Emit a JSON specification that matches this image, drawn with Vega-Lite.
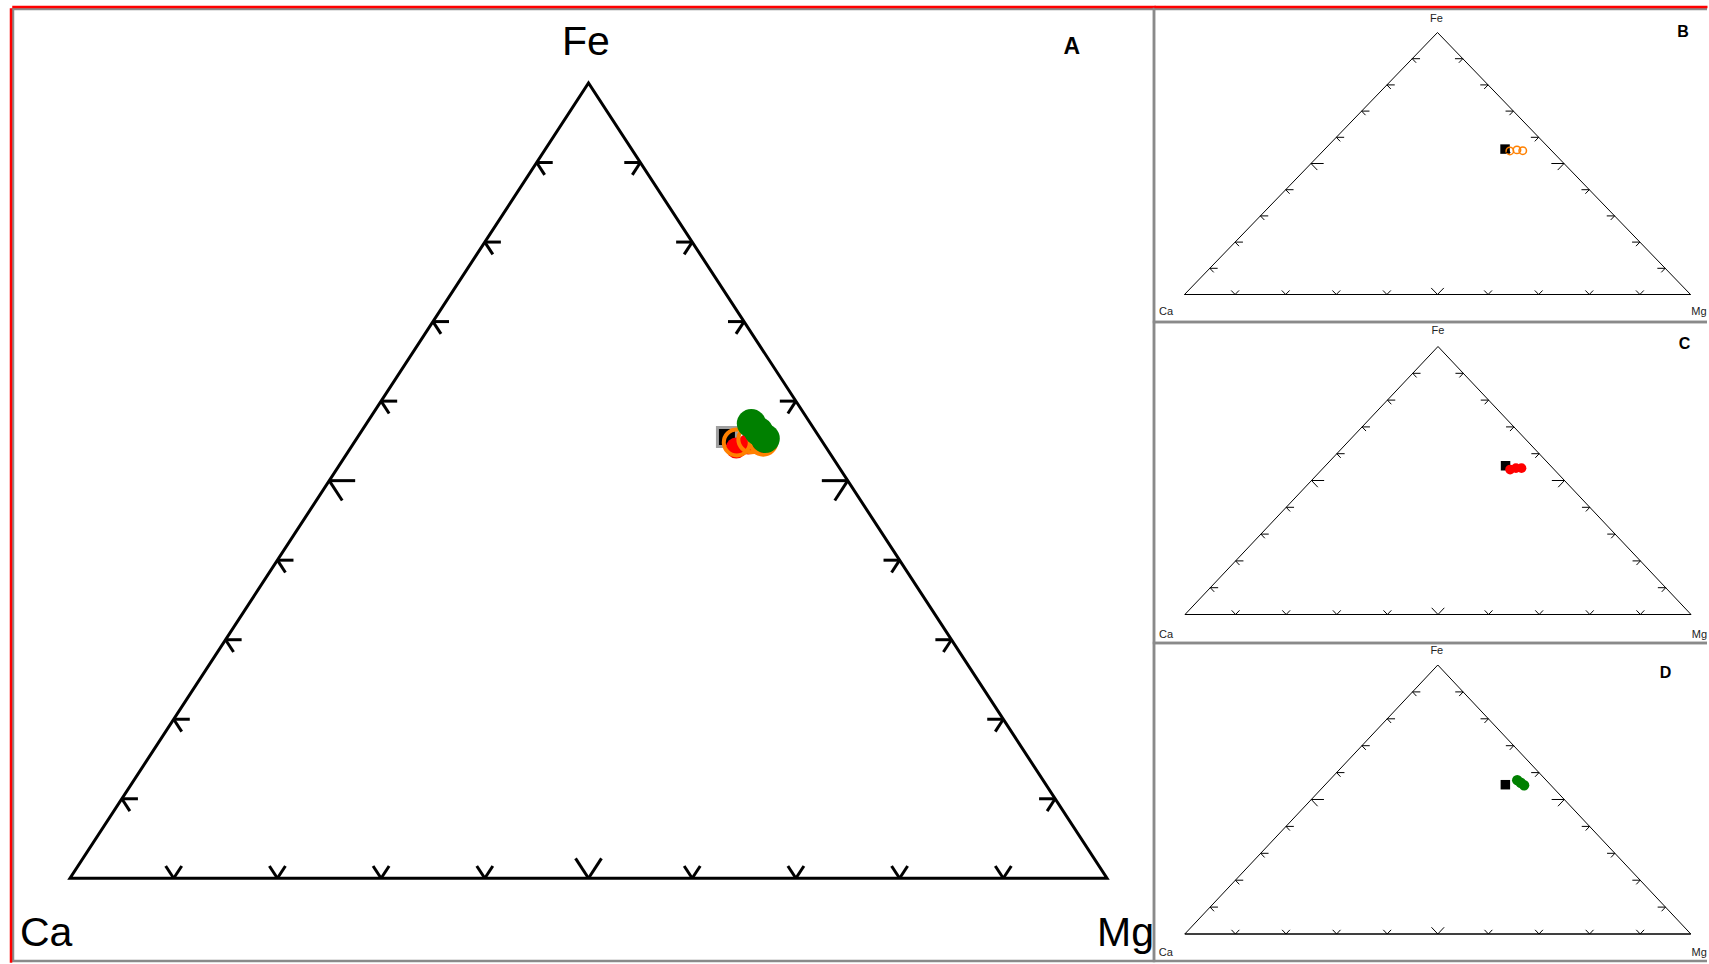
{
  "$schema": "https://vega.github.io/schema/vega-lite/v6.json",
  "background": "#ffffff",
  "padding": {"left": 9, "top": 5, "right": 0, "bottom": 0},
  "bounds": "flush",
  "spacing": 0,
  "datasets": {
    "outline": [
      {"vertex": "Ca", "step": 1, "x": 0, "y": 0},
      {"vertex": "Mg", "step": 2, "x": 1, "y": 0},
      {"vertex": "Fe", "step": 3, "x": 0.5, "y": 1},
      {"vertex": "Ca", "step": 4, "x": 0, "y": 0},
      {"vertex": "Mg", "step": 5, "x": 1, "y": 0}
    ],
    "vertices": [
      {"label": "Ca", "x": 0, "y": 0},
      {"label": "Mg", "x": 1, "y": 0},
      {"label": "Fe", "x": 0.5, "y": 1}
    ],
    "panels": [
      {"panel": "A", "x": 0.966, "y": 1.036},
      {"panel": "B", "x": 0.985, "y": 0.983},
      {"panel": "C", "x": 0.987, "y": 0.991},
      {"panel": "D", "x": 0.95, "y": 0.952}
    ],
    "ticks": [
      {"edge": "base", "pct": 10, "x": 0.1, "y": 0, "x2": 0.09225, "y2": 0.0155},
      {"edge": "base", "pct": 10, "x": 0.1, "y": 0, "x2": 0.10775, "y2": 0.0155},
      {"edge": "base", "pct": 20, "x": 0.2, "y": 0, "x2": 0.19225, "y2": 0.0155},
      {"edge": "base", "pct": 20, "x": 0.2, "y": 0, "x2": 0.20775, "y2": 0.0155},
      {"edge": "base", "pct": 30, "x": 0.3, "y": 0, "x2": 0.29225, "y2": 0.0155},
      {"edge": "base", "pct": 30, "x": 0.3, "y": 0, "x2": 0.30775, "y2": 0.0155},
      {"edge": "base", "pct": 40, "x": 0.4, "y": 0, "x2": 0.39225, "y2": 0.0155},
      {"edge": "base", "pct": 40, "x": 0.4, "y": 0, "x2": 0.40775, "y2": 0.0155},
      {"edge": "base", "pct": 50, "x": 0.5, "y": 0, "x2": 0.4875, "y2": 0.025},
      {"edge": "base", "pct": 50, "x": 0.5, "y": 0, "x2": 0.5125, "y2": 0.025},
      {"edge": "base", "pct": 60, "x": 0.6, "y": 0, "x2": 0.59225, "y2": 0.0155},
      {"edge": "base", "pct": 60, "x": 0.6, "y": 0, "x2": 0.60775, "y2": 0.0155},
      {"edge": "base", "pct": 70, "x": 0.7, "y": 0, "x2": 0.69225, "y2": 0.0155},
      {"edge": "base", "pct": 70, "x": 0.7, "y": 0, "x2": 0.70775, "y2": 0.0155},
      {"edge": "base", "pct": 80, "x": 0.8, "y": 0, "x2": 0.79225, "y2": 0.0155},
      {"edge": "base", "pct": 80, "x": 0.8, "y": 0, "x2": 0.80775, "y2": 0.0155},
      {"edge": "base", "pct": 90, "x": 0.9, "y": 0, "x2": 0.89225, "y2": 0.0155},
      {"edge": "base", "pct": 90, "x": 0.9, "y": 0, "x2": 0.90775, "y2": 0.0155},
      {"edge": "left", "pct": 10, "x": 0.05, "y": 0.1, "x2": 0.0655, "y2": 0.1},
      {"edge": "left", "pct": 10, "x": 0.05, "y": 0.1, "x2": 0.05775, "y2": 0.0845},
      {"edge": "left", "pct": 20, "x": 0.1, "y": 0.2, "x2": 0.1155, "y2": 0.2},
      {"edge": "left", "pct": 20, "x": 0.1, "y": 0.2, "x2": 0.10775, "y2": 0.1845},
      {"edge": "left", "pct": 30, "x": 0.15, "y": 0.3, "x2": 0.1655, "y2": 0.3},
      {"edge": "left", "pct": 30, "x": 0.15, "y": 0.3, "x2": 0.15775, "y2": 0.2845},
      {"edge": "left", "pct": 40, "x": 0.2, "y": 0.4, "x2": 0.2155, "y2": 0.4},
      {"edge": "left", "pct": 40, "x": 0.2, "y": 0.4, "x2": 0.20775, "y2": 0.3845},
      {"edge": "left", "pct": 50, "x": 0.25, "y": 0.5, "x2": 0.275, "y2": 0.5},
      {"edge": "left", "pct": 50, "x": 0.25, "y": 0.5, "x2": 0.2625, "y2": 0.475},
      {"edge": "left", "pct": 60, "x": 0.3, "y": 0.6, "x2": 0.3155, "y2": 0.6},
      {"edge": "left", "pct": 60, "x": 0.3, "y": 0.6, "x2": 0.30775, "y2": 0.5845},
      {"edge": "left", "pct": 70, "x": 0.35, "y": 0.7, "x2": 0.3655, "y2": 0.7},
      {"edge": "left", "pct": 70, "x": 0.35, "y": 0.7, "x2": 0.35775, "y2": 0.6845},
      {"edge": "left", "pct": 80, "x": 0.4, "y": 0.8, "x2": 0.4155, "y2": 0.8},
      {"edge": "left", "pct": 80, "x": 0.4, "y": 0.8, "x2": 0.40775, "y2": 0.7845},
      {"edge": "left", "pct": 90, "x": 0.45, "y": 0.9, "x2": 0.4655, "y2": 0.9},
      {"edge": "left", "pct": 90, "x": 0.45, "y": 0.9, "x2": 0.45775, "y2": 0.8845},
      {"edge": "right", "pct": 10, "x": 0.95, "y": 0.1, "x2": 0.9345, "y2": 0.1},
      {"edge": "right", "pct": 10, "x": 0.95, "y": 0.1, "x2": 0.94225, "y2": 0.0845},
      {"edge": "right", "pct": 20, "x": 0.9, "y": 0.2, "x2": 0.8845, "y2": 0.2},
      {"edge": "right", "pct": 20, "x": 0.9, "y": 0.2, "x2": 0.89225, "y2": 0.1845},
      {"edge": "right", "pct": 30, "x": 0.85, "y": 0.3, "x2": 0.8345, "y2": 0.3},
      {"edge": "right", "pct": 30, "x": 0.85, "y": 0.3, "x2": 0.84225, "y2": 0.2845},
      {"edge": "right", "pct": 40, "x": 0.8, "y": 0.4, "x2": 0.7845, "y2": 0.4},
      {"edge": "right", "pct": 40, "x": 0.8, "y": 0.4, "x2": 0.79225, "y2": 0.3845},
      {"edge": "right", "pct": 50, "x": 0.75, "y": 0.5, "x2": 0.725, "y2": 0.5},
      {"edge": "right", "pct": 50, "x": 0.75, "y": 0.5, "x2": 0.7375, "y2": 0.475},
      {"edge": "right", "pct": 60, "x": 0.7, "y": 0.6, "x2": 0.6845, "y2": 0.6},
      {"edge": "right", "pct": 60, "x": 0.7, "y": 0.6, "x2": 0.69225, "y2": 0.5845},
      {"edge": "right", "pct": 70, "x": 0.65, "y": 0.7, "x2": 0.6345, "y2": 0.7},
      {"edge": "right", "pct": 70, "x": 0.65, "y": 0.7, "x2": 0.64225, "y2": 0.6845},
      {"edge": "right", "pct": 80, "x": 0.6, "y": 0.8, "x2": 0.5845, "y2": 0.8},
      {"edge": "right", "pct": 80, "x": 0.6, "y": 0.8, "x2": 0.59225, "y2": 0.7845},
      {"edge": "right", "pct": 90, "x": 0.55, "y": 0.9, "x2": 0.5345, "y2": 0.9},
      {"edge": "right", "pct": 90, "x": 0.55, "y": 0.9, "x2": 0.54225, "y2": 0.8845}
    ],
    "samples": [
      {"series": "ref", "ca": 8.9, "mg": 35.6, "fe": 55.5, "x": 0.6335, "y": 0.555},
      {"series": "ref2", "ca": 8.6, "mg": 36.6, "fe": 54.8, "x": 0.64, "y": 0.548},
      {"series": "B", "ca": 8.3, "mg": 36.9, "fe": 54.8, "x": 0.643, "y": 0.548},
      {"series": "B", "ca": 6.7, "mg": 38.1, "fe": 55.2, "x": 0.657, "y": 0.552},
      {"series": "B", "ca": 5.7, "mg": 39.4, "fe": 54.9, "x": 0.6685, "y": 0.549},
      {"series": "C", "ca": 8.7, "mg": 37.2, "fe": 54.1, "x": 0.6425, "y": 0.541},
      {"series": "C", "ca": 7.3, "mg": 38.1, "fe": 54.6, "x": 0.654, "y": 0.546},
      {"series": "C", "ca": 6.2, "mg": 39.2, "fe": 54.6, "x": 0.665, "y": 0.546},
      {"series": "D", "ca": 5.7, "mg": 37.1, "fe": 57.2, "x": 0.657, "y": 0.572},
      {"series": "D", "ca": 5.3, "mg": 39.4, "fe": 55.3, "x": 0.6705, "y": 0.553},
      {"series": "D", "ca": 5.5, "mg": 38.3, "fe": 56.2, "x": 0.664, "y": 0.562}
    ]
  },
  "hconcat": [
    {
      "width": 1141,
      "height": 952,
      "view": {"stroke": "#8a8a8a", "strokeWidth": 2.5},
      "encoding": {
        "x": {"field": "x", "type": "quantitative", "scale": {"domain": [-0.054966, 1.045323], "nice": false, "zero": false},
              "axis": {"orient": "top", "offset": 2.5, "domainColor": "#ff0000", "domainWidth": 2.5, "domainCap": "square", "ticks": false, "labels": false, "grid": false, "title": null}},
        "y": {"field": "y", "type": "quantitative", "scale": {"domain": [-0.103986, 1.093047], "nice": false, "zero": false},
              "axis": {"orient": "left", "offset": 2.5, "domainColor": "#ff0000", "domainWidth": 2.5, "domainCap": "square", "ticks": false, "labels": false, "grid": false, "title": null}}
      },
      "layer": [
        {"data": {"name": "outline"}, "mark": {"type": "line", "color": "#000000", "strokeWidth": 3, "strokeJoin": "miter"},
         "encoding": {"order": {"field": "step", "type": "quantitative"}}},
        {"data": {"name": "ticks"}, "mark": {"type": "rule", "color": "#000000", "strokeWidth": 3},
         "encoding": {"x2": {"field": "x2"}, "y2": {"field": "y2"}}},
        {"data": {"name": "samples"}, "transform": [{"filter": "datum.series === 'ref'"}],
         "mark": {"type": "point", "shape": "square", "filled": true, "fill": "#000000", "stroke": "#a0a0a0", "strokeWidth": 3, "size": 361, "opacity": 1}},
        {"data": {"name": "samples"}, "transform": [{"filter": "datum.series === 'ref2'"}],
         "mark": {"type": "point", "shape": "triangle-up", "filled": true, "fill": "#000000", "size": 120, "opacity": 1}},
        {"data": {"name": "samples"}, "transform": [{"filter": "datum.series === 'C'"}],
         "mark": {"type": "point", "shape": "circle", "filled": true, "fill": "#ff0000", "size": 441, "opacity": 1}},
        {"data": {"name": "samples"}, "transform": [{"filter": "datum.series === 'B'"}],
         "mark": {"type": "point", "shape": "circle", "filled": false, "stroke": "#ff8000", "strokeWidth": 4, "size": 676, "opacity": 1}},
        {"data": {"name": "samples"}, "transform": [{"filter": "datum.series === 'D'"}],
         "mark": {"type": "point", "shape": "circle", "filled": true, "fill": "#008000", "size": 841, "opacity": 1}},
        {"data": {"name": "vertices"}, "transform": [{"filter": "datum.label === 'Fe'"}],
         "mark": {"type": "text", "font": "Liberation Sans", "fontSize": 41, "align": "center", "baseline": "alphabetic", "dx": -2.5, "dy": -28.5, "color": "#000000"},
         "encoding": {"text": {"field": "label"}}},
        {"data": {"name": "vertices"}, "transform": [{"filter": "datum.label === 'Ca'"}],
         "mark": {"type": "text", "font": "Liberation Sans", "fontSize": 41, "align": "left", "baseline": "alphabetic", "dx": -50, "dy": 68, "color": "#000000"},
         "encoding": {"text": {"field": "label"}}},
        {"data": {"name": "vertices"}, "transform": [{"filter": "datum.label === 'Mg'"}],
         "mark": {"type": "text", "font": "Liberation Sans", "fontSize": 41, "align": "right", "baseline": "alphabetic", "dx": 47, "dy": 68, "color": "#000000"},
         "encoding": {"text": {"field": "label"}}},
        {"data": {"name": "panels"}, "transform": [{"filter": "datum.panel === 'A'"}],
         "mark": {"type": "text", "font": "Liberation Sans", "fontSize": 23, "fontWeight": "bold", "align": "center", "baseline": "alphabetic", "color": "#000000"},
         "encoding": {"text": {"field": "panel"}}}
      ]
    },
    {
      "vconcat": [
        {
          "width": 553,
          "height": 313,
          "view": {"stroke": "#8a8a8a", "strokeWidth": 2.5, "strokeDash": [553, 313, 2000]},
          "encoding": {
            "x": {"field": "x", "type": "quantitative", "scale": {"domain": [-0.060277, 1.032609], "nice": false, "zero": false},
                  "axis": {"orient": "top", "offset": 2.5, "domainColor": "#ff0000", "domainWidth": 2.5, "domainCap": "butt", "ticks": false, "labels": false, "grid": false, "title": null}},
            "y": {"field": "y", "type": "quantitative", "scale": {"domain": [-0.104962, 1.089695], "nice": false, "zero": false}, "axis": null}
          },
          "layer": [
            {"data": {"name": "outline"}, "mark": {"type": "line", "color": "#000000", "strokeWidth": 1, "strokeJoin": "miter"},
             "encoding": {"order": {"field": "step", "type": "quantitative"}}},
            {"data": {"name": "ticks"}, "mark": {"type": "rule", "color": "#000000", "strokeWidth": 1},
             "encoding": {"x2": {"field": "x2"}, "y2": {"field": "y2"}}},
            {"data": {"name": "samples"}, "transform": [{"filter": "datum.series === 'ref'"}],
             "mark": {"type": "point", "shape": "square", "filled": true, "fill": "#000000", "size": 90, "opacity": 1}},
            {"data": {"name": "samples"}, "transform": [{"filter": "datum.series === 'B'"}],
             "mark": {"type": "point", "shape": "circle", "filled": false, "stroke": "#ff8000", "strokeWidth": 1.5, "size": 56, "opacity": 1}},
            {"data": {"name": "samples"}, "transform": [{"filter": "datum.series === 'ref2'"}],
             "mark": {"type": "point", "shape": "triangle-up", "filled": true, "fill": "#000000", "size": 22, "opacity": 1}},
            {"data": {"name": "vertices"}, "transform": [{"filter": "datum.label === 'Fe'"}],
             "mark": {"type": "text", "font": "Liberation Sans", "fontSize": 11, "align": "center", "baseline": "alphabetic", "dx": -1, "dy": -10.5, "color": "#222222"},
             "encoding": {"text": {"field": "label"}}},
            {"data": {"name": "vertices"}, "transform": [{"filter": "datum.label === 'Ca'"}],
             "mark": {"type": "text", "font": "Liberation Sans", "fontSize": 11, "align": "left", "baseline": "alphabetic", "dx": -25.5, "dy": 20.5, "color": "#222222"},
             "encoding": {"text": {"field": "label"}}},
            {"data": {"name": "vertices"}, "transform": [{"filter": "datum.label === 'Mg'"}],
             "mark": {"type": "text", "font": "Liberation Sans", "fontSize": 11, "align": "right", "baseline": "alphabetic", "dx": 16, "dy": 20.5, "color": "#222222"},
             "encoding": {"text": {"field": "label"}}},
            {"data": {"name": "panels"}, "transform": [{"filter": "datum.panel === 'B'"}],
             "mark": {"type": "text", "font": "Liberation Sans", "fontSize": 16, "fontWeight": "bold", "align": "center", "baseline": "alphabetic", "color": "#000000"},
             "encoding": {"text": {"field": "panel"}}}
          ]
        },
        {
          "width": 553,
          "height": 321,
          "view": {"stroke": "#8a8a8a", "strokeWidth": 2.5, "strokeDash": [553, 321, 2000]},
          "encoding": {
            "x": {"field": "x", "type": "quantitative", "scale": {"domain": [-0.061265, 1.031621], "nice": false, "zero": false}, "axis": null},
            "y": {"field": "y", "type": "quantitative", "scale": {"domain": [-0.106343, 1.091418], "nice": false, "zero": false}, "axis": null}
          },
          "layer": [
            {"data": {"name": "outline"}, "mark": {"type": "line", "color": "#000000", "strokeWidth": 1, "strokeJoin": "miter"},
             "encoding": {"order": {"field": "step", "type": "quantitative"}}},
            {"data": {"name": "ticks"}, "mark": {"type": "rule", "color": "#000000", "strokeWidth": 1},
             "encoding": {"x2": {"field": "x2"}, "y2": {"field": "y2"}}},
            {"data": {"name": "samples"}, "transform": [{"filter": "datum.series === 'ref'"}],
             "mark": {"type": "point", "shape": "square", "filled": true, "fill": "#000000", "size": 90, "opacity": 1}},
            {"data": {"name": "samples"}, "transform": [{"filter": "datum.series === 'C'"}],
             "mark": {"type": "point", "shape": "circle", "filled": true, "fill": "#ff0000", "size": 95, "opacity": 1}},
            {"data": {"name": "vertices"}, "transform": [{"filter": "datum.label === 'Fe'"}],
             "mark": {"type": "text", "font": "Liberation Sans", "fontSize": 11, "align": "center", "baseline": "alphabetic", "dx": 0, "dy": -12.5, "color": "#222222"},
             "encoding": {"text": {"field": "label"}}},
            {"data": {"name": "vertices"}, "transform": [{"filter": "datum.label === 'Ca'"}],
             "mark": {"type": "text", "font": "Liberation Sans", "fontSize": 11, "align": "left", "baseline": "alphabetic", "dx": -26, "dy": 23.5, "color": "#222222"},
             "encoding": {"text": {"field": "label"}}},
            {"data": {"name": "vertices"}, "transform": [{"filter": "datum.label === 'Mg'"}],
             "mark": {"type": "text", "font": "Liberation Sans", "fontSize": 11, "align": "right", "baseline": "alphabetic", "dx": 16, "dy": 23.5, "color": "#222222"},
             "encoding": {"text": {"field": "label"}}},
            {"data": {"name": "panels"}, "transform": [{"filter": "datum.panel === 'C'"}],
             "mark": {"type": "text", "font": "Liberation Sans", "fontSize": 16, "fontWeight": "bold", "align": "center", "baseline": "alphabetic", "color": "#000000"},
             "encoding": {"text": {"field": "panel"}}}
          ]
        },
        {
          "width": 553,
          "height": 318,
          "view": {"stroke": "#8a8a8a", "strokeWidth": 2.5, "strokeDash": [553, 318, 2000]},
          "encoding": {
            "x": {"field": "x", "type": "quantitative", "scale": {"domain": [-0.06087, 1.032016], "nice": false, "zero": false}, "axis": null},
            "y": {"field": "y", "type": "quantitative", "scale": {"domain": [-0.100372, 1.081784], "nice": false, "zero": false}, "axis": null}
          },
          "layer": [
            {"data": {"name": "outline"}, "mark": {"type": "line", "color": "#000000", "strokeWidth": 1, "strokeJoin": "miter"},
             "encoding": {"order": {"field": "step", "type": "quantitative"}}},
            {"data": {"name": "ticks"}, "mark": {"type": "rule", "color": "#000000", "strokeWidth": 1},
             "encoding": {"x2": {"field": "x2"}, "y2": {"field": "y2"}}},
            {"data": {"name": "samples"}, "transform": [{"filter": "datum.series === 'ref'"}],
             "mark": {"type": "point", "shape": "square", "filled": true, "fill": "#000000", "size": 90, "opacity": 1}},
            {"data": {"name": "samples"}, "transform": [{"filter": "datum.series === 'D'"}],
             "mark": {"type": "point", "shape": "circle", "filled": true, "fill": "#008000", "size": 110, "opacity": 1}},
            {"data": {"name": "vertices"}, "transform": [{"filter": "datum.label === 'Fe'"}],
             "mark": {"type": "text", "font": "Liberation Sans", "fontSize": 11, "align": "center", "baseline": "alphabetic", "dx": -1, "dy": -11, "color": "#222222"},
             "encoding": {"text": {"field": "label"}}},
            {"data": {"name": "vertices"}, "transform": [{"filter": "datum.label === 'Ca'"}],
             "mark": {"type": "text", "font": "Liberation Sans", "fontSize": 11, "align": "left", "baseline": "alphabetic", "dx": -26, "dy": 22, "color": "#222222"},
             "encoding": {"text": {"field": "label"}}},
            {"data": {"name": "vertices"}, "transform": [{"filter": "datum.label === 'Mg'"}],
             "mark": {"type": "text", "font": "Liberation Sans", "fontSize": 11, "align": "right", "baseline": "alphabetic", "dx": 16, "dy": 22, "color": "#222222"},
             "encoding": {"text": {"field": "label"}}},
            {"data": {"name": "panels"}, "transform": [{"filter": "datum.panel === 'D'"}],
             "mark": {"type": "text", "font": "Liberation Sans", "fontSize": 16, "fontWeight": "bold", "align": "center", "baseline": "alphabetic", "color": "#000000"},
             "encoding": {"text": {"field": "panel"}}}
          ]
        }
      ],
      "spacing": 0,
      "bounds": "flush"
    }
  ],
  "config": {
    "view": {"stroke": null},
    "concat": {"spacing": 0},
    "text": {"font": "Liberation Sans"}
  }
}
